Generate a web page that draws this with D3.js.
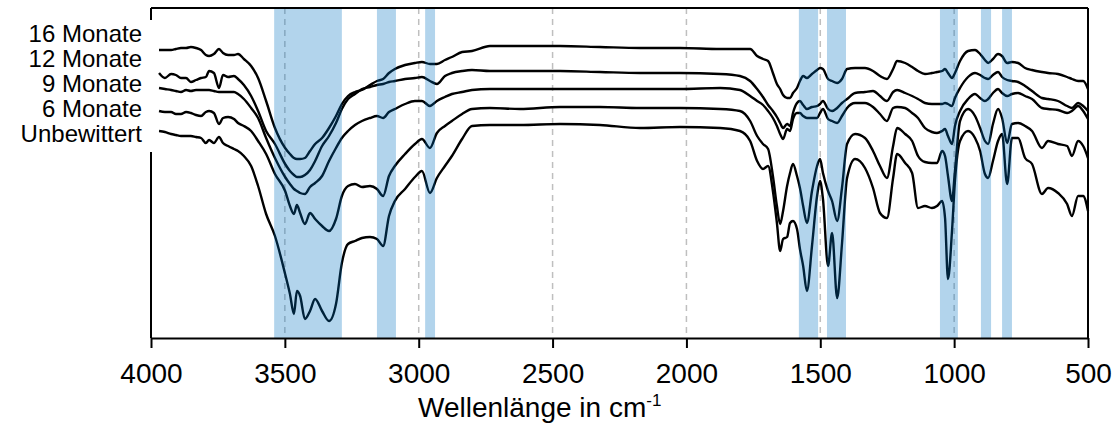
<!DOCTYPE html>
<html>
<head>
<meta charset="utf-8">
<script src="https://cdn.jsdelivr.net/npm/d3@7"></script>
<style>
    body { margin: 0; background: #ffffff; }
    svg { display: block; font-family: "Liberation Sans", Arial, sans-serif; }
</style>
</head>
<body>
<div id="chart"></div>
<script>

/* Data -------------------------------------------------------------------- */

// Wavenumbers (cm-1) at which the spectra were read
const wavenumbers = [
    3970, 3948, 3925, 3907, 3888, 3869, 3851, 3832, 3813, 3795,
    3783, 3765, 3746, 3731, 3712, 3690, 3675, 3653, 3626, 3600,
    3570, 3537, 3499, 3481, 3466, 3455, 3443, 3425, 3406, 3387,
    3361, 3335, 3309, 3287, 3264, 3238, 3212, 3182, 3156, 3133,
    3111, 3089, 3051, 3014, 2988, 2958, 2932, 2902, 2876, 2838,
    2801, 2734, 2622, 2472, 2323, 2173, 2024, 1874, 1800, 1762,
    1736, 1714, 1695, 1677, 1662, 1650, 1639, 1624, 1613, 1602,
    1587, 1576, 1564, 1550, 1531, 1512, 1501, 1490, 1471, 1456,
    1437, 1419, 1400, 1370, 1333, 1303, 1277, 1251, 1228, 1213,
    1183, 1157, 1135, 1109, 1083, 1064, 1045, 1034, 1023, 1008,
    997, 978, 948, 922, 903, 885, 873, 855, 836, 821,
    802, 784, 761, 735, 709, 672, 649, 612, 578, 560,
    537, 518, 500];

// Transmission (arbitrary units, stacked offsets included)
const monate16 = [
    288, 288, 288, 289, 290, 290, 291, 290, 288, 283,
    282, 284, 289, 285, 283, 283, 284, 279, 272, 260,
    237, 210, 190, 184, 180, 179, 179, 180, 187, 194,
    200, 210, 222, 234, 242, 246, 248, 253, 257, 259,
    265, 269, 273, 275, 276, 274, 274, 278, 281, 286,
    287, 292, 292, 292, 291, 290, 290, 289, 289, 289,
    282, 279, 277, 265, 254, 249, 243, 240, 240, 245,
    250, 257, 262, 260, 264, 268, 270, 269, 259, 257,
    255, 259, 269, 270, 270, 267, 262, 259, 269, 277,
    275, 271, 267, 264, 265, 266, 267, 269, 265, 260,
    265, 277, 287, 288, 284, 278, 275, 279, 284, 282,
    275, 276, 275, 270, 268, 266, 265, 264, 261, 259,
    257, 257, 249];

const monate12 = [
    265, 260, 264, 263, 260, 260, 256, 258, 260, 261,
    267, 265, 250, 263, 261, 262, 259, 253, 242, 227,
    207, 194, 174, 167, 163, 161, 161, 163, 168, 177,
    192, 202, 215, 229, 239, 244, 249, 251, 253, 254,
    256, 257, 259, 260, 261, 257, 254, 262, 265, 267,
    268, 267, 267, 267, 266, 265, 265, 264, 262, 257,
    249, 241, 233, 227, 221, 215, 210, 214, 212, 225,
    235, 237, 233, 229, 231, 232, 234, 237, 229, 227,
    230, 235, 239, 245, 246, 247, 242, 237, 246, 248,
    245, 242, 239, 235, 234, 234, 234, 235, 234, 232,
    240, 250, 261, 265, 263, 260, 259, 263, 266, 261,
    258, 257, 256, 252, 247, 240, 239, 237, 232, 230,
    235, 232, 227];

const monate9 = [
    250, 249, 248, 247, 246, 248, 247, 248, 248, 248,
    248, 247, 246, 246, 246, 246, 244, 239, 230, 220,
    200, 180, 161, 154, 149, 147, 145, 144, 151, 155,
    162, 177, 190, 200, 207, 213, 217, 220, 222, 220,
    226, 229, 234, 237, 237, 232, 237, 241, 244, 246,
    248, 249, 249, 249, 249, 249, 249, 250, 248, 242,
    237, 233, 227, 220, 212, 204, 199, 209, 207, 219,
    225, 225, 222, 220, 220, 220, 225, 229, 219, 217,
    215, 222, 230, 235, 235, 231, 224, 217, 230, 231,
    230, 225, 220, 210, 206, 205, 207, 209, 202, 194,
    212, 227, 239, 244, 240, 237, 239, 245, 249, 245,
    242, 244, 245, 242, 239, 230, 229, 228, 225, 227,
    232, 227, 219];

const monate6 = [
    227, 226, 226, 224, 224, 226, 225, 223, 222, 226,
    227, 225, 214, 220, 221, 219, 215, 212, 207, 197,
    184, 164, 147, 132, 124, 133, 125, 114, 125, 119,
    112, 107, 119, 142, 152, 154, 151, 152, 149, 142,
    162, 172, 184, 194, 199, 190, 205, 212, 217, 224,
    229, 230, 229, 231, 231, 230, 230, 229, 227, 217,
    202, 194, 189, 162, 132, 114, 127, 152, 165, 174,
    162, 150, 132, 115, 147, 172, 179, 165, 147, 137,
    117, 150, 194, 204, 200, 187, 172, 160, 192, 210,
    204, 197, 182, 176, 175, 175, 187, 182, 162, 137,
    167, 217, 229, 222, 210, 197, 194, 214, 229, 220,
    195, 214, 215, 212, 207, 190, 197, 194, 192, 182,
    197, 192, 180];

const unbewittert = [
    207, 206, 204, 203, 202, 202, 202, 201, 200, 195,
    198, 195, 201, 195, 192, 189, 187, 182, 172, 152,
    124, 102, 64, 44, 24, 47, 42, 19, 27, 39,
    27, 17, 34, 75, 94, 97, 100, 101, 99, 92,
    122, 137, 149, 161, 167, 145, 160, 172, 182, 199,
    212, 213, 213, 214, 213, 210, 211, 210, 207, 197,
    177, 169, 172, 147, 115, 87, 99, 101, 115, 117,
    109, 89, 72, 47, 92, 142, 157, 139, 72, 105,
    40, 94, 160, 179, 170, 150, 125, 120, 160, 184,
    175, 165, 130, 132, 130, 132, 137, 120, 59, 107,
    157, 197, 207, 200, 187, 164, 160, 177, 197, 204,
    154, 200, 200, 180, 174, 144, 150, 145, 134, 122,
    142, 142, 127];

const seriesLabels = ["16 Monate", "12 Monate", "9 Monate", "6 Monate", "Unbewittert"];
const seriesValues = [monate16, monate12, monate9, monate6, unbewittert];

// Highlighted absorption bands (cm-1)
const bandStarts = [3540, 3156, 2976, 1580, 1475, 1053, 900, 821];
const bandEnds = [3287, 3085, 2939, 1508, 1404, 986, 862, 784];

const gridValues = [3500, 3000, 2500, 2000, 1500, 1000];
const tickValues = [4000, 3500, 3000, 2500, 2000, 1500, 1000, 500];

/* Settings ---------------------------------------------------------------- */

const settings = {
    width: 1120,
    height: 426,
    plotLeft: 151,
    plotRight: 1088,
    plotTop: 8,
    plotBottom: 338,
    lineColor: "#000000",
    lineWidth: 2.4,
    bandColor: "#0070c0",
    bandOpacity: 0.3,
    gridColor: "#bfbfbf",
    tickSize: 28,
    labelSize: 24
};

/* Draw graphic ------------------------------------------------------------ */

function drawGraphic(settings) {

    const s = settings;

    const xScale = d3.scaleLinear()
        .domain([4000, 500])
        .range([s.plotLeft, s.plotRight]);

    const yScale = d3.scaleLinear()
        .domain([0, 330])
        .range([s.plotBottom, s.plotBottom - 330]);

    const series = seriesLabels.map((label, i) => ({
        label: label,
        points: wavenumbers.map((w, j) => ({ w: w, t: seriesValues[i][j] }))
    }));

    const svg = d3.select("#chart")
        .append("svg")
        .attr("width", s.width)
        .attr("height", s.height);

    svg.append("rect")
        .attr("width", s.width)
        .attr("height", s.height)
        .attr("fill", "#ffffff");

    // Dashed gridlines
    svg.append("g")
        .selectAll("line")
        .data(gridValues)
        .enter()
        .append("line")
        .attr("x1", d => xScale(d))
        .attr("x2", d => xScale(d))
        .attr("y1", s.plotTop)
        .attr("y2", s.plotBottom)
        .attr("stroke", s.gridColor)
        .attr("stroke-width", 1.5)
        .attr("stroke-dasharray", "6,5");

    // Spectra
    const line = d3.line()
        .x(d => xScale(d.w))
        .y(d => yScale(d.t))
        .curve(d3.curveMonotoneX);

    svg.append("g")
        .selectAll("path")
        .data(series)
        .enter()
        .append("path")
        .attr("d", d => line(d.points))
        .attr("fill", "none")
        .attr("stroke", s.lineColor)
        .attr("stroke-width", s.lineWidth)
        .attr("stroke-linejoin", "round");

    // Bands (transparent, on top of the spectra)
    svg.append("g")
        .selectAll("rect")
        .data(bandStarts.map((b, i) => [b, bandEnds[i]]))
        .enter()
        .append("rect")
        .attr("x", d => xScale(d[0]))
        .attr("width", d => xScale(d[1]) - xScale(d[0]))
        .attr("y", s.plotTop)
        .attr("height", s.plotBottom - s.plotTop)
        .attr("fill", s.bandColor)
        .attr("fill-opacity", s.bandOpacity);

    // Frame
    const frame = svg.append("g")
        .attr("stroke", "#000000")
        .attr("stroke-width", 2);

    frame.append("line")
        .attr("x1", s.plotLeft).attr("x2", s.plotRight)
        .attr("y1", s.plotTop).attr("y2", s.plotTop);

    frame.append("line")
        .attr("x1", s.plotRight).attr("x2", s.plotRight)
        .attr("y1", s.plotTop).attr("y2", s.plotBottom);

    frame.append("line")
        .attr("x1", s.plotLeft).attr("x2", s.plotLeft)
        .attr("y1", s.plotTop).attr("y2", s.plotBottom);

    // X-axis
    const xAxis = svg.append("g")
        .attr("class", "xaxis")
        .attr("transform", `translate(0,${s.plotBottom})`)
        .call(d3.axisBottom(xScale)
            .tickValues(tickValues)
            .tickSize(10)
            .tickSizeOuter(0)
            .tickFormat(d3.format("d")));

    xAxis.select(".domain")
        .attr("stroke", "#000000")
        .attr("stroke-width", 2);

    xAxis.selectAll(".tick line")
        .attr("stroke", "#000000")
        .attr("stroke-width", 2);

    xAxis.selectAll(".tick text")
        .attr("y", 45)
        .attr("dy", 0)
        .attr("fill", "#000000")
        .style("font-size", `${s.tickSize}px`);

    // X-axis title
    const title = svg.append("text")
        .attr("x", 418)
        .attr("y", 417)
        .attr("fill", "#000000")
        .style("font-size", `${s.tickSize}px`);

    title.append("tspan").text("Wellenlänge in cm");
    title.append("tspan")
        .attr("dy", -11)
        .style("font-size", "17px")
        .text("-1");

    // Legend box covering the left axis
    svg.append("rect")
        .attr("x", 0)
        .attr("y", 20)
        .attr("width", s.plotLeft + 2)
        .attr("height", 132)
        .attr("fill", "#ffffff");

    svg.append("g")
        .selectAll("text")
        .data(seriesLabels)
        .enter()
        .append("text")
        .attr("x", 142)
        .attr("y", (d, i) => 41.5 + i * 25)
        .attr("text-anchor", "end")
        .attr("fill", "#000000")
        .style("font-size", `${s.labelSize}px`)
        .text(d => d);
}

/* Main -------------------------------------------------------------------- */

drawGraphic(settings);

</script>
</body>
</html>
